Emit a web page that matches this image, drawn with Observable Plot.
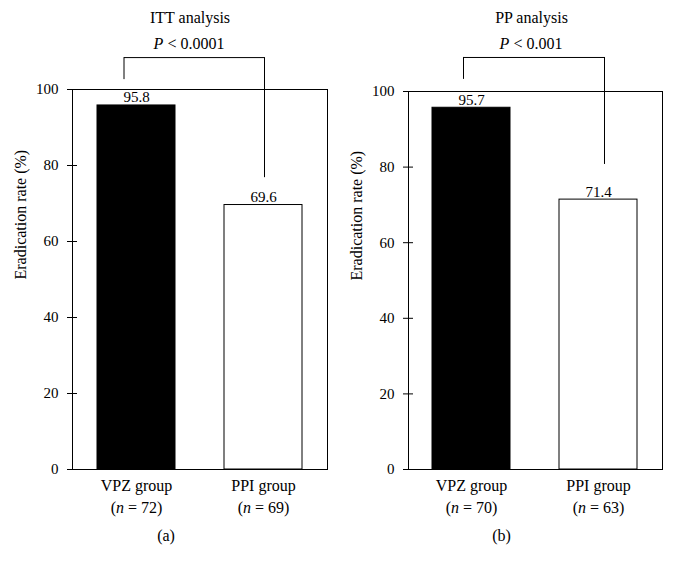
<!DOCTYPE html>
<html><head><meta charset="utf-8">
<script src="https://cdn.jsdelivr.net/npm/d3@7"></script>
<script src="https://cdn.jsdelivr.net/npm/@observablehq/plot@0.6"></script>
<style>
body{margin:0;background:#fff;}
#wrap{display:flex;width:673px;height:570px;}
</style></head><body><div id="wrap"></div>
<script>
// ---- data ----
const groups = ["VPZ group", "PPI group"];
const ittRates = [95.8, 69.6];
const ppRates = [95.7, 71.4];
const ittN = ["(n = 72)", "(n = 69)"];
const ppN = ["(n = 70)", "(n = 63)"];
const yTicks = [0, 20, 40, 60, 80, 100];
const yLabel = "Eradication rate (%)";
const titles = ["ITT analysis", "PP analysis"];
const pTexts = ["P < 0.0001", "P < 0.001"];
const tags = ["(a)", "(b)"];
// bracket y-levels (data units): left arm bottom, top, right arm bottom
const ittBracket = [102.6, 108.4, 76.8];
const ppBracket = [103.2, 109.0, 80.7];

// ---- styles ----
const fills = ["#000", "#fff"];
const FONT = "'Liberation Serif', 'Times New Roman', serif";

const panels = [
  {rates: ittRates, ns: ittN, bracket: ittBracket, title: titles[0], p: pTexts[0], tag: tags[0],
   width: 336, marginTop: 89, marginRight: 9, titleDx: -10, pDx: -11, leftDx: -12.5, rightDx: 1, hInL: 27, hInR: 38},
  {rates: ppRates, ns: ppN, bracket: ppBracket, title: titles[1], p: pTexts[1], tag: tags[1],
   width: 337, marginTop: 91, marginRight: 11, titleDx: -4, pDx: -4.5, leftDx: -8, rightDx: 6, hInL: 31, hInR: 33}
];

function italicize(svg) {
  d3.select(svg).selectAll("text, tspan").each(function () {
    if (this.childElementCount) return;
    const s = this.textContent;
    let m;
    if ((m = s.match(/^(P)( < .*)$/))) {
      this.textContent = "";
      d3.select(this).append("tspan").attr("font-style", "italic").text(m[1]);
      this.appendChild(document.createTextNode(m[2]));
    } else if ((m = s.match(/^(\()(n)( = .*)$/))) {
      this.textContent = "";
      this.appendChild(document.createTextNode(m[1]));
      d3.select(this).append("tspan").attr("font-style", "italic").text(m[2]);
      this.appendChild(document.createTextNode(m[3]));
    }
  });
}

const wrap = document.getElementById("wrap");
for (const P of panels) {
  const data = groups.map((g, i) => ({group: g, rate: P.rates[i], fill: fills[i]}));
  const H = 570, frameBottom = 469;
  const svg = Plot.plot({
    width: P.width,
    height: H,
    marginLeft: 72,
    marginRight: P.marginRight,
    marginTop: P.marginTop,
    marginBottom: H - frameBottom,
    style: {fontFamily: FONT, fontSize: "15px", color: "#000", background: "#fff"},
    x: {type: "band", domain: groups, paddingInner: 0.383, paddingOuter: 0.19, axis: null},
    y: {domain: [0, 100], axis: null},
    color: {type: "identity"},
    marks: [
      Plot.barY(data, {x: "group", y: "rate", fill: "fill", stroke: "#000", strokeWidth: 1}),
      Plot.frame({stroke: "#000", strokeWidth: 1}),
      Plot.axisY(yTicks, {tickSize: 10, dx: 5, tickPadding: 9, fontSize: 15, label: null, stroke: "#000"}),
      Plot.text(data, {x: "group", y: "rate", text: d => d.rate.toFixed(1), lineAnchor: "bottom", dy: -3, fontSize: 15, fill: "#000"}),
      Plot.text(groups, {x: d => d, frameAnchor: "bottom", lineAnchor: "bottom", dy: 21, fontSize: 16, fill: "#000"}),
      Plot.text(P.ns, {x: (d, i) => groups[i], frameAnchor: "bottom", lineAnchor: "bottom", dy: 43, fontSize: 16, fill: "#000"}),
      Plot.text([P.tag], {frameAnchor: "bottom", lineAnchor: "bottom", dy: 71, dx: -34, fontSize: 16, fill: "#000"}),
      Plot.text([P.title], {frameAnchor: "top", lineAnchor: "bottom", dy: -(P.marginTop - 22), dx: P.titleDx, fontSize: 16, fill: "#000"}),
      Plot.text([P.p], {frameAnchor: "top", lineAnchor: "bottom", dy: -(P.marginTop - 48), dx: P.pDx, fontSize: 16, fill: "#000"}),
      Plot.text([yLabel], {frameAnchor: "left", rotate: -90, lineAnchor: "middle", dx: -52, fontSize: 16, fill: "#000"}),
      // significance bracket
      Plot.ruleX([groups[0]], {x: d => d, y1: P.bracket[0], y2: P.bracket[1], dx: P.leftDx, stroke: "#000"}),
      Plot.ruleX([groups[1]], {x: d => d, y1: P.bracket[2], y2: P.bracket[1], dx: P.rightDx, stroke: "#000"}),
      Plot.ruleY([P.bracket[1]], {y: d => d, x1: () => groups[0], x2: () => groups[1], insetLeft: P.hInL, insetRight: P.hInR, stroke: "#000"})
    ]
  });
  italicize(svg);
  wrap.appendChild(svg);
}
</script></body></html>
